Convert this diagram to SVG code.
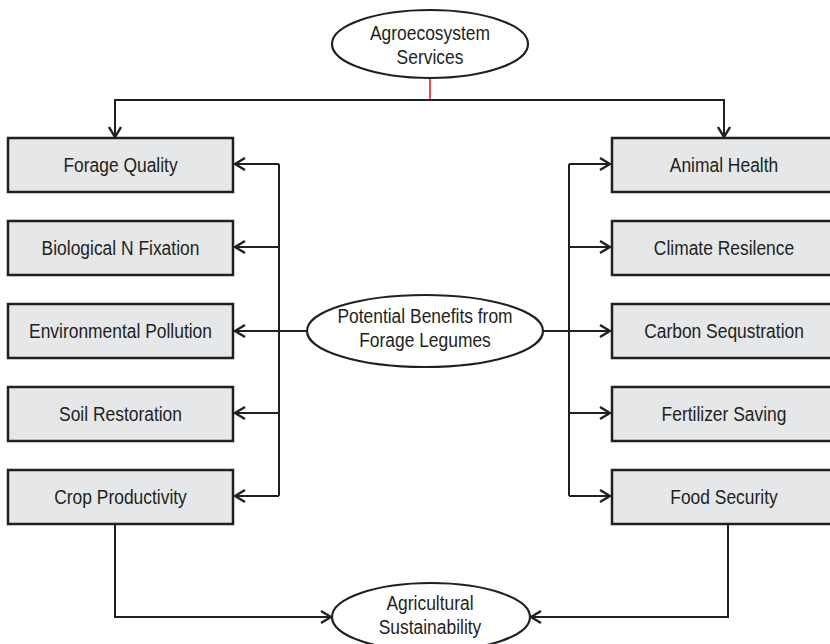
<svg xmlns="http://www.w3.org/2000/svg" width="830" height="644" viewBox="0 0 830 644">
<style>
.box{fill:#e6e7e8;stroke:#231f20;stroke-width:2.5}
.ell{fill:#fff;stroke:#231f20;stroke-width:2.2}
.t{font-family:"Liberation Sans",Arial,sans-serif;font-size:21px;fill:#231f20;text-anchor:middle}
.c{fill:none;stroke:#231f20;stroke-width:2}
.red{fill:none;stroke:#ed1c24;stroke-width:1.6}
.a{marker-end:url(#arr)}
</style>
<defs>
<marker id="arr" markerWidth="12" markerHeight="14" refX="11" refY="7" orient="auto" markerUnits="userSpaceOnUse">
<path d="M1,1 L11,7 L1,13" fill="none" stroke="#231f20" stroke-width="2.4"/>
</marker>
</defs>
<rect width="830" height="644" fill="#fff"/>
<g id="connectors">
<line class="red" x1="430" y1="78" x2="430" y2="100"/>
<line class="c" x1="115" y1="100" x2="724" y2="100"/>
<line class="c a" x1="115" y1="99" x2="115" y2="137"/>
<line class="c a" x1="724" y1="99" x2="724" y2="137"/>
<line class="c" x1="279" y1="164" x2="279" y2="496"/>
<line class="c a" x1="279" y1="164" x2="235" y2="164"/>
<line class="c a" x1="279" y1="247" x2="235" y2="247"/>
<line class="c a" x1="308" y1="331" x2="235" y2="331"/>
<line class="c a" x1="279" y1="413" x2="235" y2="413"/>
<line class="c a" x1="279" y1="496" x2="235" y2="496"/>
<line class="c" x1="569" y1="164" x2="569" y2="496"/>
<line class="c a" x1="569" y1="164" x2="610" y2="164"/>
<line class="c a" x1="569" y1="247" x2="610" y2="247"/>
<line class="c a" x1="542" y1="331" x2="610" y2="331"/>
<line class="c a" x1="569" y1="413" x2="610" y2="413"/>
<line class="c a" x1="569" y1="496" x2="610" y2="496"/>
<polyline class="c a" points="115,523 115,617 331,617"/>
<polyline class="c a" points="728,523 728,617 531,617"/>
</g>
<g id="agroecosystem">
<ellipse class="ell" cx="430" cy="44" rx="98" ry="34"/>
<text class="t" transform="translate(430,40) scale(0.83,1)">Agroecosystem</text>
<text class="t" transform="translate(430,64) scale(0.83,1)">Services</text>
</g>
<g id="potential">
<ellipse class="ell" cx="425" cy="331" rx="118" ry="36"/>
<text class="t" transform="translate(425,323) scale(0.83,1)">Potential Benefits from</text>
<text class="t" transform="translate(425,347) scale(0.83,1)">Forage Legumes</text>
</g>
<g id="sustainability">
<ellipse class="ell" cx="431" cy="617" rx="99" ry="34"/>
<text class="t" transform="translate(430,610) scale(0.83,1)">Agricultural</text>
<text class="t" transform="translate(430,634) scale(0.83,1)">Sustainability</text>
</g>
<g id="forage-quality"><rect class="box" x="8" y="138" width="225" height="54"/><text class="t" transform="translate(120.5,172) scale(0.83,1)">Forage Quality</text></g>
<g id="bnf"><rect class="box" x="8" y="221" width="225" height="54"/><text class="t" transform="translate(120.5,255) scale(0.83,1)">Biological N Fixation</text></g>
<g id="env-pollution"><rect class="box" x="8" y="304" width="225" height="54"/><text class="t" transform="translate(120.5,338) scale(0.83,1)">Environmental Pollution</text></g>
<g id="soil-restoration"><rect class="box" x="8" y="387" width="225" height="54"/><text class="t" transform="translate(120.5,421) scale(0.83,1)">Soil Restoration</text></g>
<g id="crop-productivity"><rect class="box" x="8" y="470" width="225" height="54"/><text class="t" transform="translate(120.5,504) scale(0.83,1)">Crop Productivity</text></g>
<g id="animal-health"><rect class="box" x="612" y="138" width="225" height="54"/><text class="t" transform="translate(724,172) scale(0.83,1)">Animal Health</text></g>
<g id="climate-resilence"><rect class="box" x="612" y="221" width="225" height="54"/><text class="t" transform="translate(724,255) scale(0.83,1)">Climate Resilence</text></g>
<g id="carbon"><rect class="box" x="612" y="304" width="225" height="54"/><text class="t" transform="translate(724,338) scale(0.83,1)">Carbon Sequstration</text></g>
<g id="fertilizer"><rect class="box" x="612" y="387" width="225" height="54"/><text class="t" transform="translate(724,421) scale(0.83,1)">Fertilizer Saving</text></g>
<g id="food-security"><rect class="box" x="612" y="470" width="225" height="54"/><text class="t" transform="translate(724,504) scale(0.83,1)">Food Security</text></g>
</svg>
